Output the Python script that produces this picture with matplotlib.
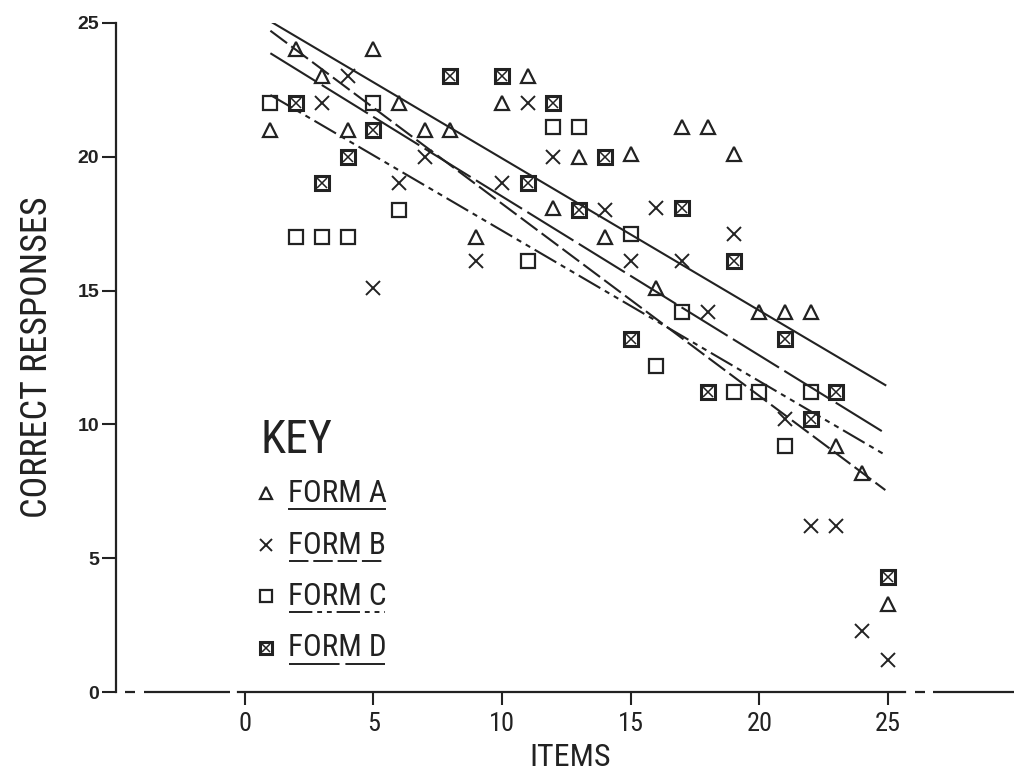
"""Correct responses per item for four test forms, with fitted lines."""

import matplotlib.pyplot as plt
from matplotlib.lines import Line2D
from matplotlib import font_manager

# ---- data ----
form_a_items = [1, 2, 3, 4, 5, 6, 7, 8, 9, 10, 11, 12, 13, 14, 15, 16, 17, 18, 19, 20, 21, 22, 23, 24, 25]
form_a_values = [21.0, 24.0, 23.0, 21.0, 24.0, 22.0, 21.0, 21.0, 17.0, 22.0, 23.0, 18.1, 20.0, 17.0, 20.1,
                 15.1, 21.1, 21.1, 20.1, 14.2, 14.2, 14.2, 9.2, 8.2, 3.3]

form_b_items = [3, 4, 5, 6, 7, 9, 10, 11, 12, 14, 15, 16, 17, 18, 19, 21, 22, 23, 24, 25]
form_b_values = [22.0, 23.0, 15.1, 19.0, 20.0, 16.1, 19.0, 22.0, 20.0, 18.0, 16.1, 18.1, 16.1, 14.2, 17.1,
                 10.2, 6.2, 6.2, 2.3, 1.2]

form_c_items = [1, 2, 3, 4, 5, 6, 11, 12, 13, 15, 16, 17, 19, 20, 21, 22]
form_c_values = [22.0, 17.0, 17.0, 17.0, 22.0, 18.0, 16.1, 21.1, 21.1, 17.1, 12.2, 14.2, 11.2, 11.2, 9.2, 11.2]

form_d_items = [2, 3, 4, 5, 8, 10, 11, 12, 13, 14, 15, 17, 18, 19, 21, 22, 23, 25]
form_d_values = [22.0, 19.0, 20.0, 21.0, 23.0, 23.0, 19.0, 22.0, 18.0, 20.0, 13.2, 18.1, 11.2, 16.1,
                 13.2, 10.2, 11.2, 4.3]

# fitted lines: value at the first and the last item
fit_items = [1, 24.9]
fit_a = [25.05, 11.47]
fit_b = [24.7, 7.55]
fit_c = [22.3, 8.86]
fit_d = [23.86, 9.67]

form_labels = ['FORM A', 'FORM B', 'FORM C', 'FORM D']
x_ticks = [0, 5, 10, 15, 20, 25]
y_ticks = [0, 5, 10, 15, 20, 25]

INK = '#222222'
W, H = 1014, 773

# pick the narrowest sans family that is installed
_installed = {f.name for f in font_manager.fontManager.ttflist}
NARROW = [f for f in ['Roboto Condensed', 'Liberation Sans Narrow', 'DejaVu Sans Condensed', 'Roboto']
          if f in _installed] + ['DejaVu Sans']

# line style per form: solid, dashed, dash-dot-dot, long dash
STYLES = {
    'A': '-',
    'B': (0, (10, 2.5)),
    'C': (0, (12, 2.5, 2.5, 2.5, 2.5, 2.5)),
    'D': (0, (26, 3)),
}


def fx(px):
    return px / W


def fy(py):
    return 1 - py / H


def draw_markers(ax, items, values, kind, transform=None, scale=1.0):
    """Draw one form's open markers; 'box' is a square with an x inside."""
    kw = dict(linestyle='none', color=INK, markerfacecolor='none', clip_on=False)
    if transform is not None:
        kw['transform'] = transform
    if kind == 'tri':
        ax.plot(items, values, marker='^', markersize=10.5 * scale, markeredgewidth=1.6, **kw)
    elif kind == 'x':
        ax.plot(items, values, marker='x', markersize=10.5 * scale, markeredgewidth=1.4, **kw)
    elif kind == 'sq':
        ax.plot(items, values, marker='s', markersize=10 * scale, markeredgewidth=1.6, **kw)
    else:
        ax.plot(items, values, marker='s', markersize=9.5 * scale, markeredgewidth=2.2, **kw)
        ax.plot(items, values, marker='x', markersize=6.5 * scale, markeredgewidth=1.1, **kw)


def main():
    fig = plt.figure(figsize=(W / 100, H / 100), dpi=100)
    ax = fig.add_axes([fx(116), 1 - 692.3 / H, fx(W - 116), (692.3 - 22.7) / H])
    ax.set_xlim(-5, 29.9)
    ax.set_ylim(0, 25)

    forms = [
        (form_a_items, form_a_values, 'tri', fit_a, 'A'),
        (form_b_items, form_b_values, 'x', fit_b, 'B'),
        (form_c_items, form_c_values, 'sq', fit_c, 'C'),
        (form_d_items, form_d_values, 'box', fit_d, 'D'),
    ]
    for items, values, kind, fit, key in forms:
        ax.plot(fit_items, fit, color=INK, linewidth=1.5, linestyle=STYLES[key])
        draw_markers(ax, items, values, kind)

    # axes: left spine full, bottom spine broken near both ends
    for side in ('top', 'right'):
        ax.spines[side].set_visible(False)
    ax.spines['left'].set_linewidth(1.6)
    ax.spines['left'].set_color(INK)
    ax.spines['bottom'].set_bounds(-0.26, 25.66)
    ax.spines['bottom'].set_linewidth(1.6)
    ax.spines['bottom'].set_color(INK)
    for x0, x1 in [(-4.65, -4.26), (-3.91, -0.57), (26.05, 26.44), (26.75, 29.9)]:
        ax.plot([x0, x1], [0, 0], color=INK, linewidth=1.6, clip_on=False, solid_capstyle='butt')

    ax.set_xticks(x_ticks)
    ax.set_yticks(y_ticks)
    ax.tick_params(axis='x', direction='out', length=9, width=1.5, color=INK, pad=5)
    ax.tick_params(axis='y', direction='out', length=10, width=1.5, color=INK, pad=2)
    for lab in ax.get_xticklabels():
        lab.set_family(NARROW)
        lab.set_fontsize(19)
        lab.set_color(INK)
    for lab in ax.get_yticklabels():
        lab.set_family(['Liberation Sans', 'DejaVu Sans'])
        lab.set_fontweight('bold')
        lab.set_fontsize(14)
        lab.set_color(INK)

    ax.set_xlabel('ITEMS', family=NARROW, fontsize=23, color=INK, va='center')
    ax.xaxis.set_label_coords(0.5056, -(758 - 692.3) / 669.6)
    ax.set_ylabel('CORRECT RESPONSES', family=NARROW, fontsize=26, color=INK, va='center')
    ax.yaxis.set_label_coords((37 - 116) / 898, 0.5)

    # hand-drawn key with underlined labels
    fig.text(fx(261), fy(453), 'KEY', family=NARROW, fontsize=33, color=INK, va='baseline')
    kinds = ['tri', 'x', 'sq', 'box']
    keys = ['A', 'B', 'C', 'D']
    for i, (label, kind, key) in enumerate(zip(form_labels, kinds, keys)):
        base = 502 + i * 51.5
        draw_markers(ax, [fx(266)], [fy(base - 9)], kind, transform=fig.transFigure, scale=0.85)
        fig.text(fx(288), fy(base), label, family=NARROW, fontsize=22.5, color=INK, va='baseline')
        fig.add_artist(Line2D([fx(289), fx(385)], [fy(base + 7), fy(base + 7)], color=INK,
                              linewidth=1.4, linestyle=STYLES[key]))

    fig.savefig('out.png', dpi=100)


if __name__ == '__main__':
    main()
